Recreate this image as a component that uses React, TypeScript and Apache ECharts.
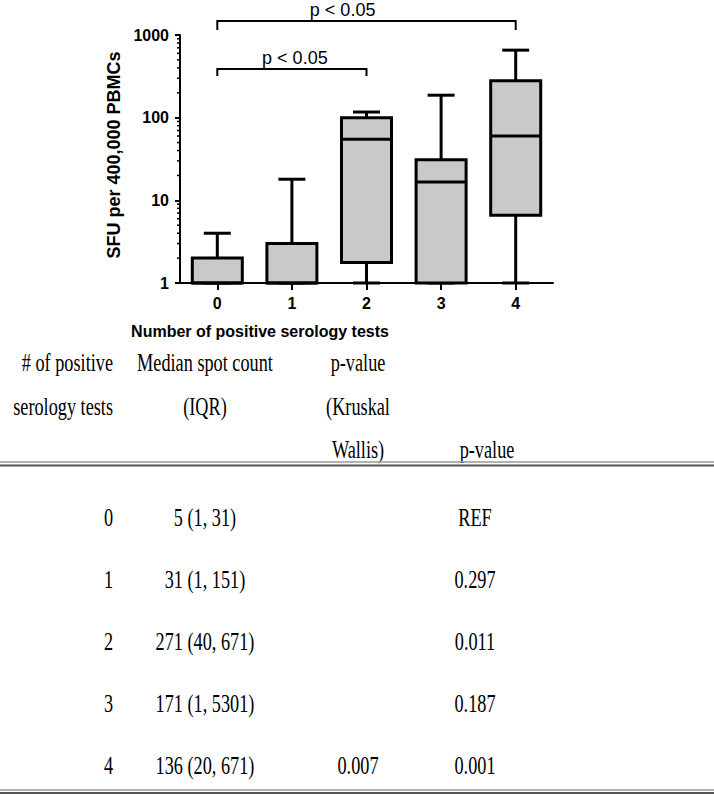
import React, { useEffect, useRef } from "react";
import * as echarts from "echarts";

// ---------- chart data ----------
const categories = ["0", "1", "2", "3", "4"];
const whiskerLow = [1, 1, 1, 1, 1];
const q1 = [1, 1, 1.77, 1, 6.6];
const medians = [1, 1, 55, 16.7, 60];
const q3 = [2, 3, 100, 31, 279];
const whiskerHigh = [4, 18, 117, 187, 656];
const minorTickValues = [2, 3, 4, 5, 6, 7, 8, 9, 20, 30, 40, 50, 60, 70, 80, 90, 200, 300, 400, 500, 600, 700, 800, 900];

// significance brackets
const bracketFrom = [0, 0];
const bracketTo = [2, 4];
const bracketLevel = [388, 1477];
const bracketDrop = [319, 1149];
const bracketLabelFrac = [0.52, 0.42];
const bracketLabels = ["p < 0.05", "p < 0.05"];

// ---------- table data ----------
const headerCol0 = ["# of positive", "serology tests"];
const headerCol1 = ["Median spot count", "(IQR)"];
const headerCol2 = ["p-value", "(Kruskal", "Wallis)"];
const headerCol3 = ["", "", "p-value"];
const tableGroups = ["0", "1", "2", "3", "4"];
const medianIQR = ["5 (1, 31)", "31 (1, 151)", "271 (40, 671)", "171 (1, 5301)", "136 (20, 671)"];
const kruskalP = ["", "", "", "", "0.007"];
const pValues = ["REF", "0.297", "0.011", "0.187", "0.001"];

const sans = 'Arial, "Liberation Sans", sans-serif';
const serif = '"Times New Roman", "Liberation Serif", serif';

function tText(text: string, x: number, y: number, align: string) {
  return {
    type: "text",
    x,
    y,
    scaleX: 0.73,
    silent: true,
    style: {
      text,
      x: 0,
      y: 0,
      textAlign: align,
      textVerticalAlign: "middle",
      align,
      verticalAlign: "middle",
      font: `25px ${serif}`,
      fill: "#000",
    },
  };
}

function buildTable() {
  const els: any[] = [];
  const headerY = [363, 407, 450];
  headerCol0.forEach((t, i) => t && els.push(tText(t, 113, headerY[i], "right")));
  headerCol1.forEach((t, i) => t && els.push(tText(t, 205, headerY[i], "center")));
  headerCol2.forEach((t, i) => t && els.push(tText(t, 358, headerY[i], "center")));
  headerCol3.forEach((t, i) => t && els.push(tText(t, 487, headerY[i], "center")));
  tableGroups.forEach((g, i) => {
    const y = 518 + i * 62;
    els.push(tText(g, 113, y, "right"));
    els.push(tText(medianIQR[i], 205, y, "center"));
    if (kruskalP[i]) els.push(tText(kruskalP[i], 358, y, "center"));
    els.push(tText(pValues[i], 475, y, "center"));
  });
  const rule = (y: number, color: string, w: number) => ({
    type: "line",
    silent: true,
    shape: { x1: 0, y1: y, x2: 714, y2: y },
    style: { stroke: color, lineWidth: w },
  });
  els.push(rule(462, "#999", 1.5), rule(465.5, "#555", 2));
  els.push(rule(790, "#999", 1.5), rule(793, "#555", 2));
  return els;
}

export default function App() {
  const ref = useRef<HTMLDivElement>(null);
  useEffect(() => {
    const chart = echarts.init(ref.current!, null, { renderer: "svg" });
    const boxData = categories.map((_, i) => [i, whiskerLow[i], q1[i], medians[i], q3[i], whiskerHigh[i]]);
    const option: any = {
      animation: false,
      backgroundColor: "#fff",
      grid: { left: 180, right: 161, top: 35, bottom: 511, containLabel: false },
      xAxis: {
        type: "category",
        data: categories,
        boundaryGap: true,
        axisLine: { show: true, lineStyle: { color: "#000", width: 2 } },
        axisTick: { show: true, alignWithLabel: true, length: 7, lineStyle: { color: "#000", width: 2 } },
        axisLabel: { color: "#000", fontFamily: sans, fontWeight: "bold", fontSize: 16, margin: 12 },
        splitLine: { show: false },
      },
      yAxis: {
        type: "log",
        logBase: 10,
        min: 1,
        max: 1000,
        axisLine: { show: true, lineStyle: { color: "#000", width: 2 } },
        axisTick: { show: true, length: 5, lineStyle: { color: "#000", width: 2 } },
        axisLabel: {
          color: "#000",
          fontFamily: sans,
          fontWeight: "bold",
          fontSize: 16,
          margin: 11,
          formatter: (v: number) => String(Math.round(v)),
        },
        splitLine: { show: false },
        minorTick: { show: false },
      },
      graphic: [
        {
          type: "text",
          x: 114,
          y: 155,
          rotation: Math.PI / 2,
          silent: true,
          style: {
            text: "SFU per 400,000 PBMCs",
            x: 0,
            y: 0,
            textAlign: "center",
            textVerticalAlign: "middle",
            align: "center",
            verticalAlign: "middle",
            font: `bold 18px ${sans}`,
            fill: "#000",
          },
        },
        {
          type: "text",
          x: 260,
          y: 331,
          silent: true,
          style: {
            text: "Number of positive serology tests",
            x: 0,
            y: 0,
            textAlign: "center",
            textVerticalAlign: "middle",
            align: "center",
            verticalAlign: "middle",
            font: `bold 16px ${sans}`,
            fill: "#000",
          },
        },
        ...buildTable(),
      ],
      series: [
        {
          type: "custom",
          name: "minor ticks",
          clip: false,
          silent: true,
          encode: { x: 0, y: 1 },
          data: minorTickValues.map((v) => [0, v]),
          renderItem: (params: any, api: any) => {
            const p = api.coord([0, api.value(1)]);
            const x0 = params.coordSys.x;
            return {
              type: "line",
              shape: { x1: x0 - 3, y1: p[1], x2: x0, y2: p[1] },
              style: { stroke: "#000", lineWidth: 1.5 },
            };
          },
        },
        {
          type: "custom",
          name: "boxes",
          clip: false,
          silent: true,
          encode: { x: 0, y: [1, 2, 3, 4, 5] },
          data: boxData,
          z: 3,
          renderItem: (params: any, api: any) => {
            const i = api.value(0);
            const pMin = api.coord([i, api.value(1)]);
            const pQ1 = api.coord([i, api.value(2)]);
            const pMed = api.coord([i, api.value(3)]);
            const pQ3 = api.coord([i, api.value(4)]);
            const pMax = api.coord([i, api.value(5)]);
            const cx = pMed[0];
            const hw = 25;
            const cw = 13.5;
            const st = { stroke: "#000", lineWidth: 3, fill: null };
            return {
              type: "group",
              children: [
                { type: "line", shape: { x1: cx, y1: pQ3[1], x2: cx, y2: pMax[1] }, style: st },
                { type: "line", shape: { x1: cx, y1: pMin[1], x2: cx, y2: pQ1[1] }, style: st },
                { type: "line", shape: { x1: cx - cw, y1: pMax[1], x2: cx + cw, y2: pMax[1] }, style: st },
                { type: "line", shape: { x1: cx - cw, y1: pMin[1], x2: cx + cw, y2: pMin[1] }, style: st },
                {
                  type: "rect",
                  shape: { x: cx - hw, y: pQ3[1], width: hw * 2, height: pQ1[1] - pQ3[1] },
                  style: { fill: "#c9c9c9", stroke: "#000", lineWidth: 3 },
                },
                { type: "line", shape: { x1: cx - hw, y1: pMed[1], x2: cx + hw, y2: pMed[1] }, style: st },
              ],
            };
          },
        },
        {
          type: "custom",
          name: "brackets",
          clip: false,
          silent: true,
          encode: { x: [0, 1], y: [2, 3] },
          data: bracketFrom.map((f, i) => [f, bracketTo[i], bracketLevel[i], bracketDrop[i]]),
          renderItem: (params: any, api: any) => {
            const idx = params.dataIndex;
            const a = api.coord([api.value(0), api.value(2)]);
            const b = api.coord([api.value(1), api.value(2)]);
            const d = api.coord([api.value(0), api.value(3)]);
            const lx = a[0] + (b[0] - a[0]) * bracketLabelFrac[idx];
            const st = { stroke: "#000", lineWidth: 2, fill: null };
            return {
              type: "group",
              children: [
                {
                  type: "polyline",
                  shape: { points: [[a[0], d[1]], [a[0], a[1]], [b[0], a[1]], [b[0], d[1]]] },
                  style: st,
                },
                {
                  type: "text",
                  style: {
                    text: bracketLabels[idx],
                    x: lx,
                    y: a[1] - 2,
                    textAlign: "center",
                    textVerticalAlign: "bottom",
                    align: "center",
                    verticalAlign: "bottom",
                    font: `18px ${sans}`,
                    fill: "#000",
                  },
                },
              ],
            };
          },
        },
      ],
    };
    chart.setOption(option);
    return () => chart.dispose();
  }, []);
  return (
    <div
      ref={ref}
      style={{ position: "absolute", left: 0, top: 0, width: 714, height: 794, background: "#fff" }}
    />
  );
}
